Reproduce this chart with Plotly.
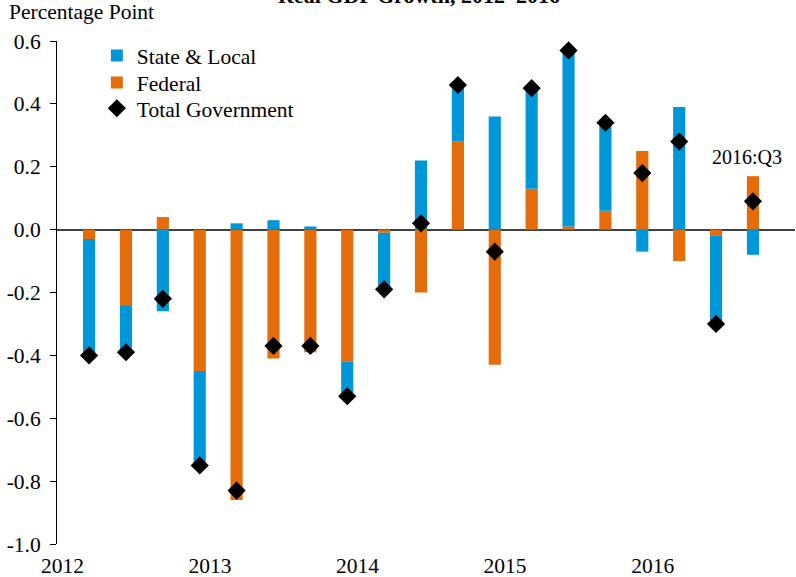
import plotly.graph_objects as go

quarters = ["2012:Q1", "2012:Q2", "2012:Q3", "2012:Q4",
            "2013:Q1", "2013:Q2", "2013:Q3", "2013:Q4",
            "2014:Q1", "2014:Q2", "2014:Q3", "2014:Q4",
            "2015:Q1", "2015:Q2", "2015:Q3", "2015:Q4",
            "2016:Q1", "2016:Q2", "2016:Q3"]
state_local = [-0.37, -0.15, -0.26, -0.30, 0.02, 0.03, 0.01, -0.11,
               -0.18, 0.22, 0.18, 0.36, 0.32, 0.56, 0.28, -0.07,
               0.39, -0.28, -0.08]
federal = [-0.03, -0.24, 0.04, -0.45, -0.86, -0.41, -0.39, -0.42,
           -0.01, -0.20, 0.28, -0.43, 0.13, 0.01, 0.06, 0.25,
           -0.10, -0.02, 0.17]
total_gov = [-0.40, -0.39, -0.22, -0.75, -0.83, -0.37, -0.37, -0.53,
             -0.19, 0.02, 0.46, -0.07, 0.45, 0.57, 0.34, 0.18,
             0.28, -0.30, 0.09]
year_labels = ["2012", "2013", "2014", "2015", "2016"]
y_ticks = [0.6, 0.4, 0.2, 0.0, -0.2, -0.4, -0.6, -0.8, -1.0]

xpos = list(range(len(quarters)))
year_pos = [4 * k - 0.72 for k in range(len(year_labels))]

BLUE = "#0097D8"
ORANGE = "#E46C0A"
FONT = "Liberation Serif"

def f(size):
    return dict(family=FONT, size=size, color="black")

def leg(y):
    return dict(x=0.054, y=y, xanchor="left", yanchor="top",
                bgcolor="rgba(0,0,0,0)", font=f(21.5), itemwidth=30)

fig = go.Figure()
fig.add_trace(go.Bar(x=xpos, y=federal, name="Federal", marker_color=ORANGE,
                     marker_line_width=0, legend="legend2", customdata=quarters))
fig.add_trace(go.Bar(x=xpos, y=state_local, name="State & Local", marker_color=BLUE,
                     marker_line_width=0, legend="legend", customdata=quarters))
fig.add_trace(go.Scatter(x=xpos, y=total_gov, name="Total Government", mode="markers",
                         marker=dict(symbol="diamond", size=14, color="black"),
                         legend="legend3", customdata=quarters))

fig.update_layout(
    width=796, height=577,
    barmode="relative", bargap=0.67,
    plot_bgcolor="white", paper_bgcolor="white",
    margin=dict(l=57, r=1, t=41, b=33, autoexpand=False),
    font=f(21.5),
    showlegend=True,
    legend=leg(1.012),
    legend2=leg(0.958),
    legend3=leg(0.907),
    xaxis=dict(range=[-0.87, 19.14], tickmode="array", tickvals=year_pos,
               ticktext=year_labels, showline=False, showgrid=False,
               zeroline=False, ticks="", tickfont=f(21.5), automargin=False,
               ticklabelstandoff=6),
    yaxis=dict(range=[-1.0, 0.6], tickmode="array", tickvals=y_ticks,
               ticktext=[f"{v:.1f}" for v in y_ticks], showgrid=False,
               showline=True, linecolor="black", linewidth=1,
               ticks="outside", ticklen=6, tickcolor="black",
               zeroline=True, zerolinecolor="#404040", zerolinewidth=1.5,
               tickfont=f(21.5), automargin=False, ticklabelstandoff=5),
    annotations=[
        dict(text="Percentage Point", xref="paper", yref="paper", x=-0.068, y=1.03,
             xanchor="left", yanchor="bottom", showarrow=False, font=f(21.5)),
        dict(text="<b>Real GDP Growth, 2012–2016</b>", xref="paper", yref="paper",
             x=0.49, y=1.062, xanchor="center", yanchor="bottom", showarrow=False,
             font=f(22)),
        dict(text="2016:Q3", x=17.85, y=0.23, xref="x", yref="y",
             xanchor="center", yanchor="middle", showarrow=False, font=f(20)),
    ],
)

fig.write_html("out.html", config={"displayModeBar": False},
               post_script="document.body.style.margin='0';")
